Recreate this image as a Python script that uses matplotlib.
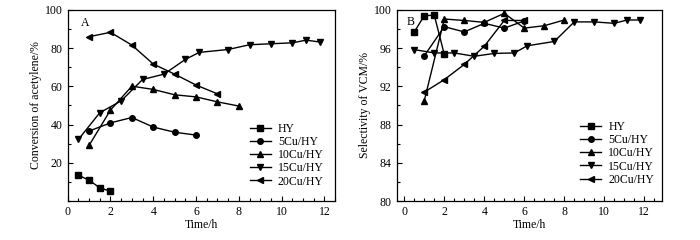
import numpy as np
import matplotlib
matplotlib.use("Agg")
from matplotlib import pyplot as plt
from matplotlib.ticker import MultipleLocator

plt.rcParams['font.family'] = ['Liberation Serif', 'DejaVu Serif']
plt.rcParams['font.size'] = 8.5

labels = ["HY", "5Cu/HY", "10Cu/HY", "15Cu/HY", "20Cu/HY"]
markers = ["s", "o", "^", "v", "<"]

# time points
t_hy = [0.5, 1, 1.5, 2]
t_5 = [1, 2, 3, 4, 5, 6]
t_10 = [1, 2, 3, 4, 5, 6, 7, 8]
t_15 = [0.5, 1.5, 2.5, 3.5, 4.5, 5.5, 6.15, 7.5, 8.5, 9.5, 10.5, 11.15, 11.8]
t_20 = [1, 2, 3, 4, 5, 6, 7]
t_20b = [1, 2, 3, 4, 5, 6]

# A: conversion of acetylene (%)
conv_hy = [13.5, 10.9, 6.9, 5.1]
conv_5 = [36.6, 40.9, 43.7, 38.7, 36.0, 34.5]
conv_10 = [29.1, 47.6, 60.1, 58.4, 55.6, 54.5, 51.9, 49.7]
conv_15 = [32.2, 46.2, 52.4, 63.6, 66.4, 74.1, 77.8, 79.3, 81.8, 82.3, 82.8, 84.2, 83.2]
conv_20 = [86.0, 88.3, 81.6, 71.7, 66.4, 60.7, 56.1]

# B: selectivity of VCM (%)
sel_hy = [97.7, 99.4, 99.45, 95.35]
sel_5 = [95.2, 98.25, 97.7, 98.6, 98.1, 98.85]
sel_10 = [90.5, 99.05, 98.9, 98.7, 99.65, 98.1, 98.35, 98.95]
sel_15 = [95.85, 95.5, 95.5, 95.15, 95.45, 95.5, 96.25, 96.7, 98.75, 98.75, 98.6, 98.95, 98.95]
sel_20 = [91.4, 92.7, 94.3, 96.2, 98.9, 98.9]

fig = plt.figure(figsize=(7, 2.4), dpi=100)
axA = fig.add_axes([0.0967, 0.1625, 0.382, 0.796])
axB = fig.add_axes([0.5667, 0.1625, 0.3794, 0.796])

seriesA = [(t_hy, conv_hy), (t_5, conv_5), (t_10, conv_10), (t_15, conv_15), (t_20, conv_20)]
seriesB = [(t_hy, sel_hy), (t_5, sel_5), (t_10, sel_10), (t_15, sel_15), (t_20b, sel_20)]

for ax, series in [(axA, seriesA), (axB, seriesB)]:
    for (t, v), m, lab in zip(series, markers, labels):
        ax.plot(t, v, color="black", lw=1.0, marker=m, ms=4, label=lab)
    ax.tick_params(direction="in", which="both", top=False, right=False, labelsize=8.5)
    ax.tick_params(which="major", length=3.5, width=0.8)
    ax.tick_params(which="minor", length=2, width=0.8)
    for s in ax.spines.values():
        s.set_linewidth(0.9)
    ax.set_xlabel("Time/h", labelpad=1)
    ax.xaxis.set_major_locator(MultipleLocator(2))
    ax.xaxis.set_minor_locator(MultipleLocator(0.5))
    ax.legend(loc="lower left", frameon=False, handlelength=1.8, handletextpad=0.6,
              labelspacing=0.1, borderpad=0, borderaxespad=0)

axA.set_xlim(0, 12.5)
axA.set_ylim(0, 100)
axA.set_yticks([20, 40, 60, 80, 100])
axA.yaxis.set_minor_locator(MultipleLocator(10))
axA.set_ylabel("Conversion of acetylene/%", labelpad=2)
axA.text(0.065, 0.933, "A", transform=axA.transAxes, ha="center", va="center")
axA.get_legend().set_bbox_to_anchor((0.68, 0.07))

axB.set_xlim(-0.38, 12.9)
axB.set_ylim(80, 100)
axB.yaxis.set_major_locator(MultipleLocator(4))
axB.yaxis.set_minor_locator(MultipleLocator(2))
axB.set_ylabel("Selectivity of VCM/%", labelpad=2)
axB.text(0.053, 0.938, "B", transform=axB.transAxes, ha="center", va="center")
axB.get_legend().set_bbox_to_anchor((0.69, 0.08))

fig.savefig("out.png", dpi=100)
